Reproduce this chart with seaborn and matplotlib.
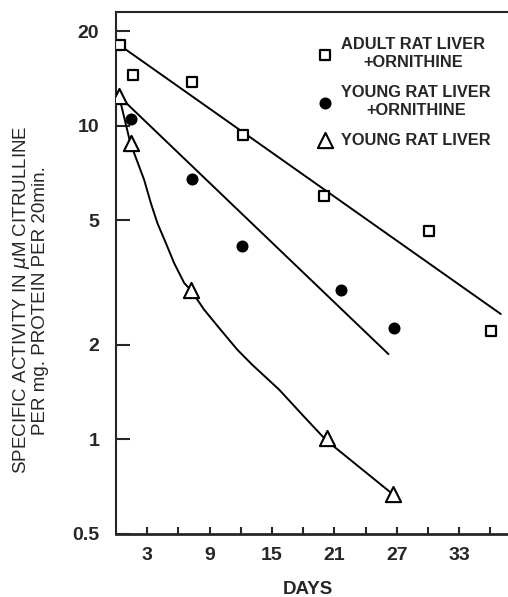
import matplotlib
matplotlib.use('Agg')
import matplotlib.pyplot as plt
import seaborn as sns

# points (days, specific activity)
adult_days = [0.4, 1.65, 7.3, 12.2, 20.0, 30.1, 36.1]
adult_activity = [18.1, 14.5, 13.8, 9.33, 5.98, 4.62, 2.22]
young_orn_days = [1.4, 7.3, 12.1, 21.6, 26.7]
young_orn_activity = [10.5, 6.76, 4.14, 2.99, 2.26]
young_days = [0.3, 1.4, 7.2, 20.3, 26.6]
young_activity = [12.4, 8.82, 2.99, 1.01, 0.67]

# drawn fit lines
adult_fit_days = [0.8, 37.0]
adult_fit_activity = [17.6, 2.51]
young_orn_fit_days = [0.3, 26.2]
young_orn_fit_activity = [12.4, 1.87]
young_curve_days = [0.3, 1.37, 2.71, 3.36, 3.99, 4.80, 5.60, 6.56, 7.2, 8.48,
                    10.09, 11.68, 13.1, 15.7, 17.9, 20.2, 26.6]
young_curve_activity = [12.4, 8.82, 6.71, 5.65, 4.88, 4.22, 3.64, 3.15, 2.99, 2.59,
                        2.23, 1.93, 1.73, 1.44, 1.20, 0.995, 0.67]

x_ticks = list(range(3, 37, 3))
x_tick_labels = ['3', '', '9', '', '15', '', '21', '', '27', '', '33', '']
y_ticks = [0.5, 1, 2, 5, 10, 20]
y_tick_labels = ['0.5', '1', '2', '5', '10', '20']

sns.set_style('ticks')
plt.rcParams['font.family'] = ['Liberation Sans', 'DejaVu Sans']
plt.rcParams['mathtext.fontset'] = 'dejavusans'

fig = plt.figure(figsize=(5.08, 5.97), dpi=100)
# axes run a bit past the right edge of the figure (the original is cropped there)
ax = fig.add_axes([116 / 508, 1 - 534 / 597, 400 / 508, 522 / 597])

line_kw = dict(color='black', linewidth=1.4, estimator=None, sort=False, legend=False, ax=ax)
sns.lineplot(x=adult_fit_days, y=adult_fit_activity, **line_kw)
sns.lineplot(x=young_orn_fit_days, y=young_orn_fit_activity, **line_kw)
sns.lineplot(x=young_curve_days, y=young_curve_activity, **line_kw)

sns.scatterplot(x=adult_days, y=adult_activity, marker='s', s=60, facecolor='white',
                edgecolor='black', linewidth=1.6, zorder=3, ax=ax,
                label='ADULT RAT LIVER\n+ORNITHINE')
sns.scatterplot(x=young_orn_days, y=young_orn_activity, marker='o', s=75, color='black',
                edgecolor='black', linewidth=0, zorder=3, ax=ax,
                label='YOUNG RAT LIVER\n+ORNITHINE')
sns.scatterplot(x=young_days, y=young_activity, marker='^', s=120, facecolor='white',
                edgecolor='black', linewidth=1.5, zorder=3, ax=ax,
                label='YOUNG RAT LIVER')

ax.set_yscale('log')
ax.set_xlim(0, 38.46)
ax.set_ylim(0.5, 23)
ax.set_xticks(x_ticks)
ax.set_xticklabels(x_tick_labels, fontweight='bold')
ax.set_yticks(y_ticks)
ax.set_yticklabels(y_tick_labels, fontweight='bold')
ax.minorticks_off()
ax.tick_params(axis='x', direction='in', length=5, width=1.5, labelsize=14, pad=9)
ax.tick_params(axis='y', direction='in', length=10, width=1.5, labelsize=14, pad=12)

for side in ['left', 'top']:
    ax.spines[side].set_linewidth(1.5)
ax.spines['bottom'].set_linewidth(2)
ax.spines['right'].set_visible(False)

ax.set_xlabel('DAYS', fontsize=13.5, fontweight='bold')
ax.xaxis.set_label_coords(0.48, -0.09)
ax.set_ylabel('SPECIFIC ACTIVITY IN $\\mu$M CITRULLINE\nPER mg. PROTEIN PER 20min.',
              fontsize=13.5, linespacing=1.0)
ax.yaxis.set_label_coords(-0.168, 0.448)

leg = ax.legend(loc='upper left', bbox_to_anchor=(0.46, 0.98), frameon=False,
                prop={'size': 11.8, 'weight': 'bold'},
                handletextpad=0.4, handlelength=1.2, labelspacing=0.9)
for t in leg.get_texts():
    t.set_multialignment('center')
    t.set_linespacing(1.25)

fig.savefig('out.png', dpi=100)
